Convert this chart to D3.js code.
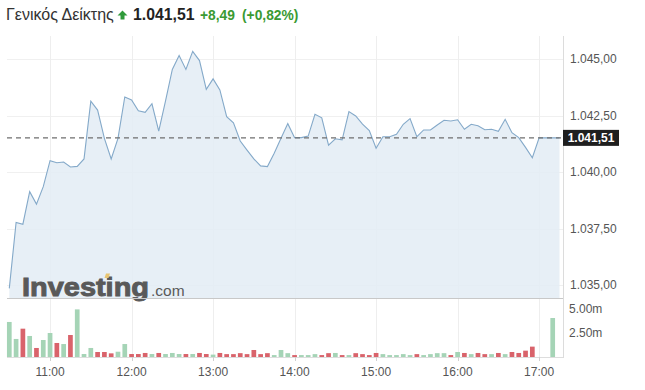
<!DOCTYPE html>
<html><head><meta charset="utf-8">
<script src="https://cdn.jsdelivr.net/npm/d3@7"></script>
<style>
html,body{margin:0;padding:0;background:#fff;}
svg{display:block;font-family:"Liberation Sans",Arial,sans-serif;}
</style></head>
<body><svg id="c" width="645" height="390"></svg>
<script>
// ---- data ----
const titleName = "Γενικός Δείκτης";
const lastValue = "1.041,51";
const changeAbs = "+8,49";
const changePct = "(+0,82%)";
const startTime = "10:30";   // first 5-minute bar
const stepMinutes = 5;
const prices = [1034.85,1037.77,1037.69,1039.13,1038.58,1039.35,1040.50,1040.41,1040.44,1040.22,
  1040.25,1040.58,1043.13,1042.74,1041.49,1040.58,1041.49,1043.32,1043.19,1042.71,
  1042.64,1043.02,1041.81,1043.15,1044.54,1045.15,1044.54,1045.34,1044.93,1043.66,
  1044.12,1043.63,1042.45,1042.18,1041.37,1040.97,1040.58,1040.27,1040.24,1040.83,
  1041.49,1042.14,1041.52,1041.52,1041.59,1042.55,1042.40,1041.19,1041.47,1041.42,
  1042.67,1042.48,1042.12,1041.83,1041.05,1041.56,1041.56,1041.67,1042.11,1042.36,
  1041.56,1041.86,1041.86,1042.08,1042.29,1042.26,1042.31,1041.89,1042.11,1042.05,
  1041.87,1041.89,1041.80,1042.33,1041.74,1041.52,1041.09,1040.63,1041.51,1041.51,
  1041.51,1041.51];
const refPrice = 1041.51;
// volume in millions, null = no trade
const volumes = [3.65,1.88,2.95,2.19,0.94,1.77,2.50,1.46,1.35,2.29,
  4.96,0.31,0.94,0.52,0.52,0.38,0.55,1.35,0.31,0.31,
  0.42,0.31,0.42,0.31,0.42,0.31,0.31,0.31,0.42,0.31,
  0.25,0.42,0.30,0.30,0.40,0.30,0.73,0.30,0.40,0.20,
  0.73,0.40,0.20,0.20,0.20,0.30,0.20,0.40,0.42,0.20,
  0.20,0.40,0.30,0.20,0.42,0.30,0.20,0.20,0.30,0.20,
  0.30,0.20,0.30,0.40,0.40,0.20,0.52,0.42,0.30,0.42,
  0.30,0.30,0.42,0.30,0.52,0.42,0.66,1.08,null,null,4.06];
const volDir = ["u","u","d","u","d","u","u","d","u","d",
  "u","u","u","d","d","d","u","u","d","d",
  "d","u","d","u","u","u","d","u","d","d",
  "u","d","d","d","d","d","d","d","d","u",
  "u","u","d","u","u","u","d","d","u","d",
  "u","d","d","d","d","u","u","u","u","u",
  "d","u","u","u","u","d","u","d","u","d",
  "d","u","d","u","d","d","d","d","u","u","u"];
const priceTicks = [1035,1037.5,1040,1042.5,1045];
const volTicks = [2.5,5];
const hourTicks = ["11:00","12:00","13:00","14:00","15:00","16:00","17:00"];

// ---- helpers ----
const parse = d3.timeParse("%H:%M");
const t0 = parse(startTime);
const times = prices.map((_, i) => d3.timeMinute.offset(t0, i * stepMinutes));
const fmtNum = d3.formatLocale({decimal:",", thousands:".", grouping:[3]}).format(",.2f");

const svg = d3.select("#c");
const pLeft = 7, pRight = 563, pTop = 36, priceBottom = 298, volBottom = 357;

const x = d3.scaleTime().domain([t0, times[times.length-1]]).range([9.3, 559.5]);
const y = d3.scaleLinear().domain([1035,1045]).range([285,59]);
const yv = d3.scaleLinear().domain([0,5]).range([volBottom,309]);

// grids
const g = svg.append("g");
g.selectAll(".hg").data(priceTicks).join("line")
  .attr("x1", pLeft).attr("x2", pRight)
  .attr("y1", d => Math.round(y(d))+0.5).attr("y2", d => Math.round(y(d))+0.5)
  .attr("stroke", "#f0f0f0");
g.selectAll(".vg").data(hourTicks).join("line")
  .attr("x1", d => Math.round(x(parse(d)))+0.5).attr("x2", d => Math.round(x(parse(d)))+0.5)
  .attr("y1", pTop).attr("y2", volBottom)
  .attr("stroke", "#eeeeee");

// area + line
const area = d3.area().x((d,i)=>x(times[i])).y0(priceBottom).y1(d=>y(d));
const line = d3.line().x((d,i)=>x(times[i])).y(d=>y(d));
svg.append("path").datum(prices).attr("d", area).attr("fill", "#e3ecf5").attr("fill-opacity", 0.85);
svg.append("path").datum(prices).attr("d", line).attr("fill", "none")
  .attr("stroke", "#84a9c9").attr("stroke-width", 1.1);

// logo
const logo = svg.append("g");
logo.append("text").attr("x", 22).attr("y", 296)
  .attr("font-size", 25).attr("font-weight", "bold").attr("fill", "#595959")
  .attr("stroke", "#595959").attr("stroke-width", 0.9)
  .attr("textLength", 127).attr("lengthAdjust", "spacingAndGlyphs")
  .text("Investing");
logo.append("text").attr("x", 151).attr("y", 296)
  .attr("font-size", 15.5).attr("fill", "#595959").text(".com");
logo.append("path").attr("d", "M104.5,278 L106,273.5 L110,273.5 L108.5,278 Z").attr("fill", "#e8c572");

// bottom border of price panel / top of volume panel
svg.append("line").attr("x1", pLeft).attr("x2", pRight).attr("y1", 298.5).attr("y2", 298.5)
  .attr("stroke", "#c8c8c8");

// dashed reference line
svg.append("line").attr("x1", pLeft).attr("x2", pRight)
  .attr("y1", y(refPrice)).attr("y2", y(refPrice))
  .attr("stroke", "#6f6f6f").attr("stroke-width", 1.4).attr("stroke-dasharray", "5,4");

// volume bars
const bw = 4.7;
svg.append("g").selectAll("rect").data(volumes.map((v,i)=>({v, i})).filter(d=>d.v!=null)).join("rect")
  .attr("x", d => x(times[d.i]) - bw/2)
  .attr("width", bw)
  .attr("y", d => yv(d.v))
  .attr("height", d => volBottom - yv(d.v))
  .attr("fill", d => volDir[d.i] === "u" ? "#a5d4b6" : "#d9636b");

// volume baseline
svg.append("line").attr("x1", pLeft).attr("x2", pRight).attr("y1", volBottom+0.5).attr("y2", volBottom+0.5)
  .attr("stroke", "#dddddd");

// right axis line
svg.append("line").attr("x1", pRight+0.5).attr("x2", pRight+0.5).attr("y1", pTop).attr("y2", volBottom+1)
  .attr("stroke", "#dcdcdc");

// price axis labels
svg.append("g").selectAll("text").data(priceTicks).join("text")
  .attr("x", 570).attr("y", d => y(d)+4.3)
  .attr("font-size", 12).attr("fill", "#555").text(d => fmtNum(d));

// volume labels
svg.append("g").selectAll("text").data(volTicks).join("text")
  .attr("x", 569).attr("y", d => yv(d)+4.3)
  .attr("font-size", 12).attr("fill", "#555").text(d => d.toFixed(2) + "m");

// time axis
const tg = svg.append("g");
tg.selectAll("line").data(hourTicks).join("line")
  .attr("x1", d => Math.round(x(parse(d)))+0.5).attr("x2", d => Math.round(x(parse(d)))+0.5)
  .attr("y1", volBottom).attr("y2", volBottom+4).attr("stroke", "#d0d0d0");
tg.selectAll("text").data(hourTicks).join("text")
  .attr("x", d => x(parse(d))).attr("y", 375.5).attr("text-anchor", "middle")
  .attr("font-size", 12).attr("fill", "#555").text(d => d);

// last price label
const ly = y(refPrice);
svg.append("rect").attr("x", 563).attr("y", ly-8).attr("width", 56).attr("height", 16).attr("fill", "#1f1f1f");
svg.append("text").attr("x", 591).attr("y", ly+4.3).attr("text-anchor", "middle")
  .attr("font-size", 12).attr("font-weight", "bold").attr("fill", "#fff").text(fmtNum(refPrice));

// title
svg.append("text").attr("x", 6).attr("y", 19.5).attr("font-size", 16).attr("fill", "#333").text(titleName);
svg.append("path").attr("d", "M122.5,10.5 L127.5,15.5 L124.5,15.5 L124.5,19.5 L120.5,19.5 L120.5,15.5 L117.5,15.5 Z")
  .attr("fill", "#2f9a3a");
svg.append("text").attr("x", 133).attr("y", 19.5).attr("font-size", 15.8).attr("font-weight", "bold")
  .attr("fill", "#222").text(lastValue);
svg.append("text").attr("x", 200).attr("y", 19.5).attr("font-size", 13.8).attr("font-weight", "bold")
  .attr("fill", "#3a9a32").text(changeAbs);
svg.append("text").attr("x", 242).attr("y", 19.5).attr("font-size", 13.8).attr("font-weight", "bold")
  .attr("fill", "#3a9a32").text(changePct);
</script>
</body></html>
